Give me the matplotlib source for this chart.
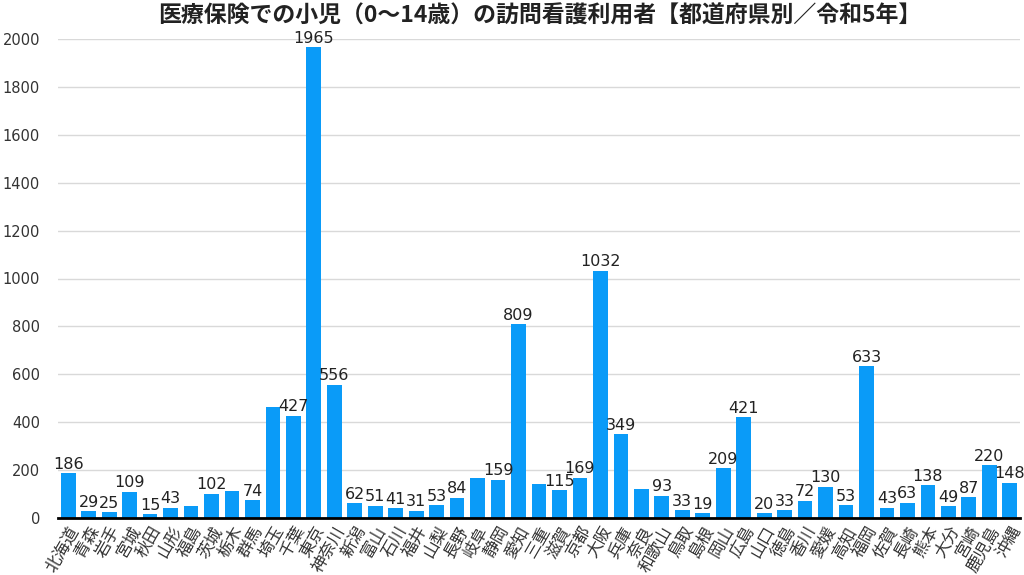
import matplotlib
matplotlib.use("Agg")
import matplotlib.pyplot as plt

plt.rcParams['font.family'] = ['Noto Sans CJK JP', 'DejaVu Sans']

prefectures = ["北海道", "青森", "岩手", "宮城", "秋田", "山形", "福島", "茨城", "栃木", "群馬",
               "埼玉", "千葉", "東京", "神奈川", "新潟", "富山", "石川", "福井", "山梨", "長野",
               "岐阜", "静岡", "愛知", "三重", "滋賀", "京都", "大阪", "兵庫", "奈良", "和歌山",
               "鳥取", "島根", "岡山", "広島", "山口", "徳島", "香川", "愛媛", "高知", "福岡",
               "佐賀", "長崎", "熊本", "大分", "宮崎", "鹿児島", "沖縄"]
values = [186, 29, 25, 109, 15, 43, 52, 102, 112, 74,
          463, 427, 1965, 556, 62, 51, 41, 31, 53, 84,
          165, 159, 809, 143, 115, 169, 1032, 349, 122, 93,
          33, 19, 209, 421, 20, 33, 72, 130, 53, 633,
          43, 63, 138, 49, 87, 220, 148]
# value labels that are visible in the reference (others hidden)
show_label = [True, True, True, True, True, True, False, True, False, True,
              False, True, True, True, True, True, True, True, True, True,
              False, True, True, False, True, True, True, True, False, True,
              True, True, True, True, True, True, True, True, True, True,
              True, True, True, True, True, True, True]
yticks = [0, 200, 400, 600, 800, 1000, 1200, 1400, 1600, 1800, 2000]

fig = plt.figure(figsize=(10.24, 5.75), dpi=100)
ax = fig.add_axes([58/1024, 1 - 518/575, 962/1024, 479/575])

x = list(range(len(prefectures)))
ax.bar(x, values, width=0.72, color='#0A9BF8', zorder=3)
for xi, v, s in zip(x, values, show_label):
    if s:
        ax.text(xi, v + 6, str(v), ha='center', va='bottom', fontsize=11.5,
                color='#222222', zorder=4, family=['DejaVu Sans'])

ax.set_xlim(-0.5, len(prefectures) - 0.5)
ax.set_ylim(0, 2000)
ax.set_yticks(yticks)
ax.set_yticklabels([str(t) for t in yticks], fontsize=10.5, color='#333333', family=['DejaVu Sans'])
ax.yaxis.grid(True, color='#d9d9d9', linewidth=1, zorder=0)
ax.set_axisbelow(True)
ax.tick_params(axis='y', length=0, pad=13)
ax.set_xticks(x)
ax.set_xticklabels(prefectures, rotation=60, ha='right', rotation_mode='anchor',
                   fontsize=12, color='#333333')
ax.tick_params(axis='x', length=0, pad=4)
for sp in ['left', 'right', 'top']:
    ax.spines[sp].set_visible(False)
ax.spines['bottom'].set_color('black')
ax.spines['bottom'].set_linewidth(2)
ax.spines['bottom'].set_zorder(5)

fig.text(540/1024, 1 - 16/575, "医療保険での小児（0〜14歳）の訪問看護利用者【都道府県別／令和5年】",
         ha='center', va='center', fontsize=16.5, fontweight='bold', color='#222222')

fig.savefig("out.png", dpi=100)
